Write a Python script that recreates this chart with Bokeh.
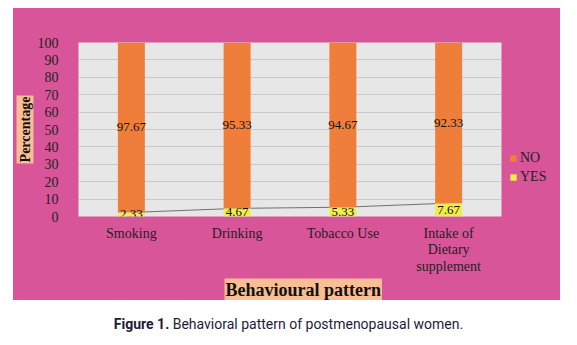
from bokeh.plotting import figure
from bokeh.models import ColumnDataSource, Legend, LegendItem, Div, Title
from bokeh.layouts import column, row
from bokeh.core.properties import value
from bokeh.embed import file_html
from bokeh.resources import INLINE

categories = ["Smoking", "Drinking", "Tobacco Use", "Intake of\nDietary\nsupplement"]
yes_vals = [2.33, 4.67, 5.33, 7.67]
no_vals = [97.67, 95.33, 94.67, 92.33]
yticks = [0, 10, 20, 30, 40, 50, 60, 70, 80, 90, 100]

PINK = "#D9559A"
ORANGE = "#EE7E3A"
YELLOW = "#F0EE4A"
PEACH = "#F9BE94"
SERIF = "Liberation Serif"

src = ColumnDataSource(dict(
    cat=categories,
    yes=yes_vals,
    no=no_vals,
    yes_mid=[v / 2 for v in yes_vals],
    no_mid=[y + n / 2 for y, n in zip(yes_vals, no_vals)],
    yes_lbl=["%.2f" % v for v in yes_vals],
    no_lbl=["%.2f" % v for v in no_vals],
))

# main chart: page x 13..505, y 8..300
p = figure(x_range=categories, y_range=(0, 100), width=492, height=292,
           output_backend="svg", toolbar_location=None,
           min_border_left=65, min_border_right=4, min_border_top=34, min_border_bottom=80,
           margin=(0, 0, 0, 0))
p.background_fill_color = "#E7E7E7"
p.border_fill_color = PINK
p.outline_line_color = None

p.line(x="cat", y="yes", source=src, line_color="#707070", line_width=1)
p.vbar(x="cat", bottom=0, top="yes", width=0.255, source=src,
       fill_color=YELLOW, line_color=None)
p.vbar(x="cat", bottom="yes", top=100, width=0.255, source=src,
       fill_color=ORANGE, line_color=None)

p.text(x="cat", y="no_mid", text="no_lbl", source=src, text_align="center",
       text_baseline="middle", text_font=value(SERIF),
       text_font_size="13px", text_color="#111111")
p.text(x="cat", y="yes_mid", text="yes_lbl", source=src, text_align="center",
       text_baseline="middle", text_font=value(SERIF),
       text_font_size="13px", text_color="#111111")

p.xgrid.grid_line_color = None
p.ygrid.grid_line_color = "#C9C9C9"
p.ygrid.ticker = yticks
p.yaxis.ticker = yticks
for ax in (p.xaxis[0], p.yaxis[0]):
    ax.axis_line_color = None
    ax.major_tick_line_color = None
    ax.minor_tick_line_color = None
    ax.major_label_text_font = SERIF
    ax.major_label_text_font_size = "14px"
    ax.major_label_text_color = "#222222"
p.yaxis.major_label_standoff = 14
p.xaxis.major_label_standoff = 3
p.xaxis.major_label_text_line_height = 1.1

ytitle = Title(text="Percentage", align="center", text_font=SERIF, text_font_style="bold",
               text_font_size="14px", text_color="#111111", background_fill_color=PEACH,
               standoff=2, padding=1)
p.add_layout(ytitle, "left")
xtitle = Title(text="Behavioural pattern", align="left", text_font=SERIF, text_font_style="bold",
               text_font_size="18px", text_color="#111111", background_fill_color=PEACH,
               offset=146, standoff=0, padding=1)
p.add_layout(xtitle, "below")

# legend panel: page x 505..560, y 8..300
lf = figure(x_range=categories, y_range=(0, 100), width=55, height=292,
            output_backend="svg", toolbar_location=None,
            x_axis_location=None, y_axis_location=None,
            min_border_left=0, min_border_right=0, min_border_top=0, min_border_bottom=0,
            margin=(0, 0, 0, 0))
lf.background_fill_color = PINK
lf.border_fill_color = PINK
lf.outline_line_color = None
lf.xgrid.visible = False
lf.ygrid.visible = False
l_yes = lf.vbar(x="cat", bottom=0, top="yes", width=0.255, source=src,
                fill_color=YELLOW, line_color=None, visible=False)
l_no = lf.vbar(x="cat", bottom="yes", top=100, width=0.255, source=src,
               fill_color=ORANGE, line_color=None, visible=False)

legend = Legend(items=[LegendItem(label="NO", renderers=[l_no]),
                       LegendItem(label="YES", renderers=[l_yes])],
                location=(4, 31), orientation="vertical")
legend.background_fill_alpha = 0
legend.border_line_color = None
legend.label_text_font = SERIF
legend.label_text_font_size = "14px"
legend.label_text_color = "#222222"
legend.glyph_width = 8
legend.glyph_height = 8
legend.label_height = 16
legend.label_standoff = 3
legend.spacing = 3
legend.padding = 0
legend.margin = 0
lf.add_layout(legend)

caption = Div(text='<span style="font-weight:bold">Figure 1.</span> Behavioral pattern of postmenopausal women.',
              width=577, height=40, margin=(14, 0, 0, 0),
              styles={"text-align": "center", "font-family": "'Liberation Sans Narrow', Roboto, sans-serif",
                      "font-size": "14px", "color": "#1c1c3a", "width": "577px"})

chart = row(p, lf, spacing=0, margin=(8, 0, 0, 13), styles={"background-color": PINK})
layout = column(chart, caption, spacing=0)
open("out.html", "w").write(file_html(layout, INLINE))
